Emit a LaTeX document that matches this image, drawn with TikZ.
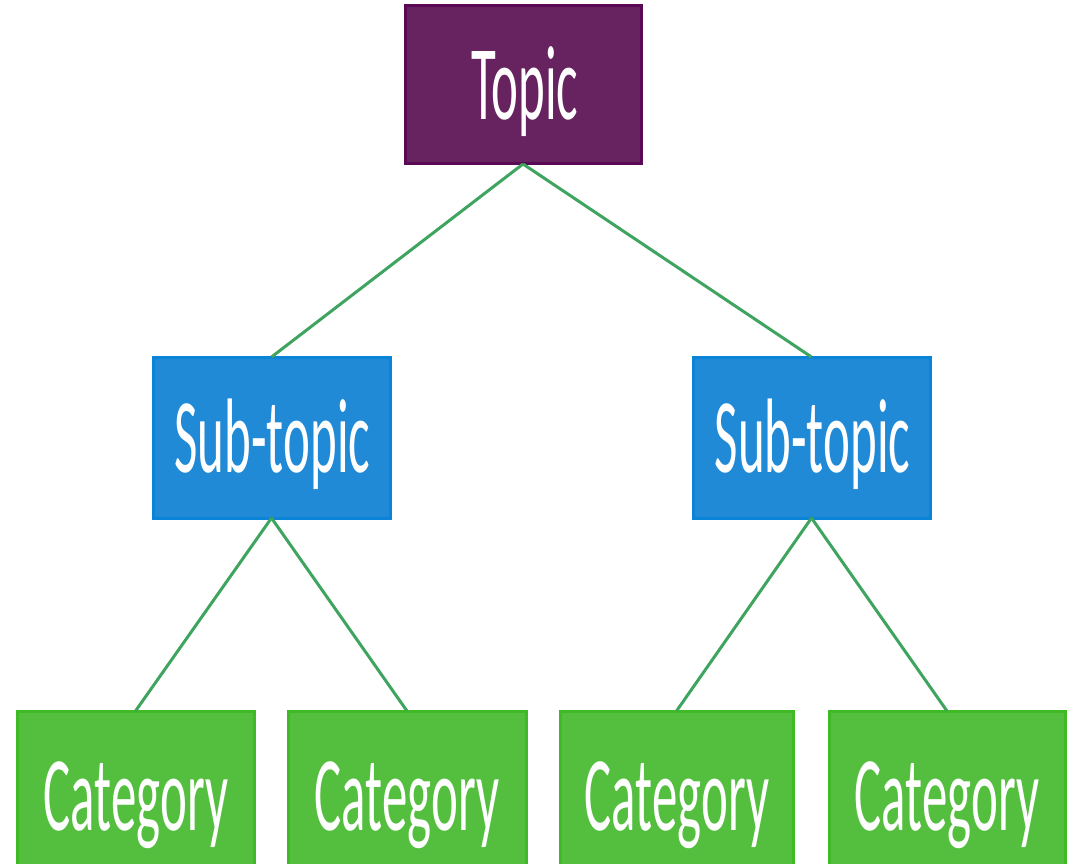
\documentclass[tikz,border=0pt]{standalone}
\usepackage{fontspec}
\setmainfont{Carlito}
\definecolor{topicfill}{HTML}{66235F}
\definecolor{topicedge}{HTML}{5A0A55}
\definecolor{subfill}{HTML}{218AD7}
\definecolor{subedge}{HTML}{0A84D6}
\definecolor{catfill}{HTML}{54BF3F}
\definecolor{catedge}{HTML}{3FBA24}
\definecolor{linkgreen}{HTML}{3EA460}
\begin{document}
\begin{tikzpicture}[x=1pt,y=-1pt]
\tikzset{
  box/.style={rectangle, inner sep=0pt, outer sep=0pt, line width=3pt},
  topicbox/.style={box, fill=topicfill, draw=topicedge, minimum width=236pt, minimum height=158pt},
  subbox/.style={box, fill=subfill, draw=subedge, minimum width=237pt, minimum height=161pt},
  catbox/.style={box, fill=catfill, draw=catedge, minimum height=155pt},
  boxlabel/.style={text=white, anchor=base, inner sep=0pt,
    font=\fontsize{106}{106}\selectfont},
  link/.style={draw=linkgreen, line width=3pt}
}
\useasboundingbox (0,0) rectangle (1071,864);

% boxes
\node[topicbox] (topic) at (523,85) {};
\node[subbox] (subL) at (271.5,437.5) {};
\node[subbox] (subR) at (811.5,437.5) {};
\node[catbox, minimum width=237pt] (catA) at (135.5,788.5) {};
\node[catbox, minimum width=238pt] (catB) at (407,788.5) {};
\node[catbox, minimum width=233pt] (catC) at (676.5,788.5) {};
\node[catbox, minimum width=236pt] (catD) at (947,788.5) {};

% connectors
\draw[link] (topic.south) -- (subL.north);
\draw[link] (topic.south) -- (subR.north);
\draw[link] (subL.south) -- (catA.north);
\draw[link] (subL.south) -- (catB.north);
\draw[link] (subR.south) -- (catC.north);
\draw[link] (subR.south) -- (catD.north);

% labels
\node[boxlabel] (topicText) at (525,120) {\scalebox{0.48}[1]{Topic}};
\node[boxlabel] (subLText) at (272.5,472) {\scalebox{0.48}[1]{Sub-topic}};
\node[boxlabel] (subRText) at (812.5,472) {\scalebox{0.48}[1]{Sub-topic}};
\node[boxlabel] (catAText) at (136,830) {\scalebox{0.48}[1]{Category}};
\node[boxlabel] (catBText) at (407,830) {\scalebox{0.48}[1]{Category}};
\node[boxlabel] (catCText) at (677,830) {\scalebox{0.48}[1]{Category}};
\node[boxlabel] (catDText) at (947,830) {\scalebox{0.48}[1]{Category}};
\end{tikzpicture}
\end{document}
